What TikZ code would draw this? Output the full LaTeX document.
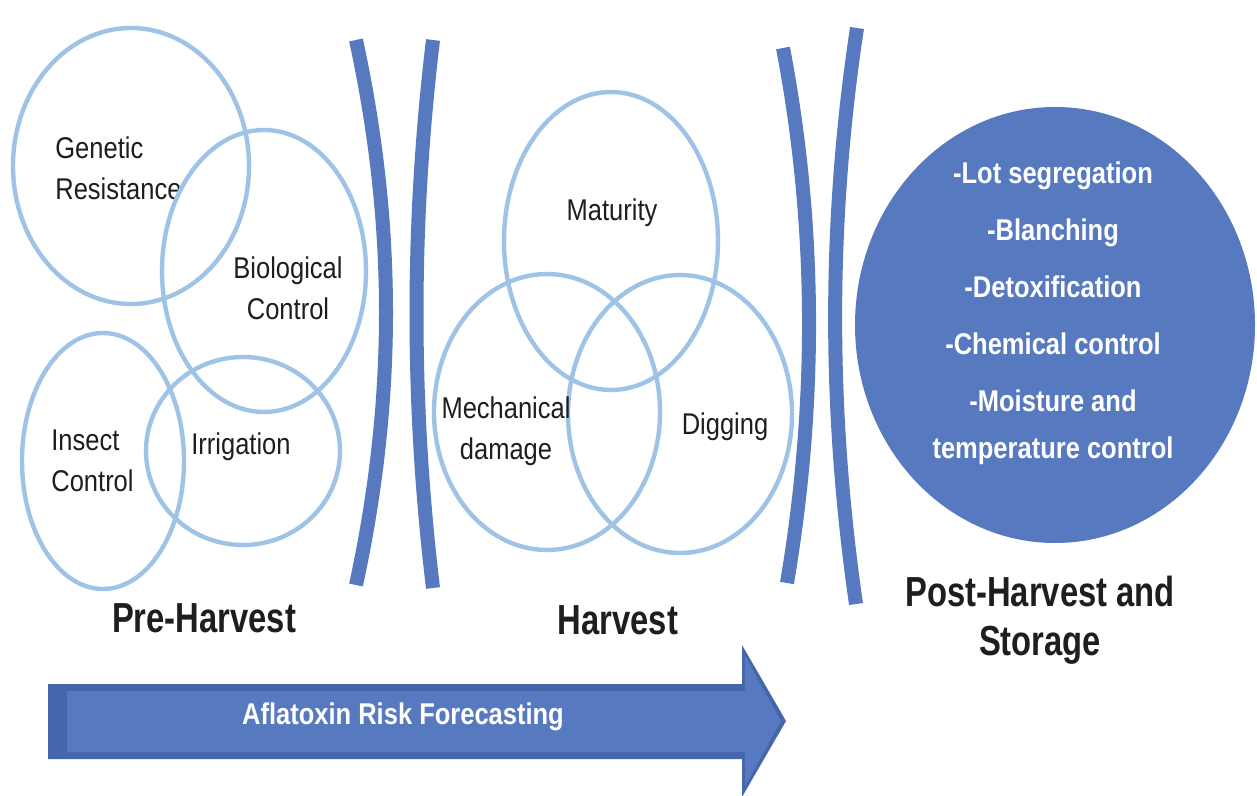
\documentclass[tikz,border=0pt]{standalone}
\usepackage{fontspec}
\setmainfont{Liberation Sans}
\newfontfamily\labelfont{Liberation Sans}[FakeStretch=0.85]
\newfontfamily\headfont{Liberation Sans}[FakeStretch=0.78]
\usetikzlibrary{shapes.geometric}
\definecolor{barblue}{HTML}{5779C0}
\definecolor{ringblue}{HTML}{9FC3E7}
\definecolor{arrowdark}{HTML}{4666AB}
\definecolor{inkgray}{HTML}{1E1E1E}
\begin{document}
\begin{tikzpicture}[x=0.5pt,y=-0.5pt,
  ring/.style={ellipse, draw=ringblue, line width=2.2pt, inner sep=0pt},
  bar/.style={draw=barblue, line width=7pt, line cap=butt},
  lbl/.style={text=inkgray, inner sep=0pt, align=center,
    font=\labelfont\fontsize{15pt}{20.5pt}\selectfont},
  stage/.style={text=inkgray, inner sep=0pt, align=center,
    font=\headfont\bfseries\fontsize{21pt}{24.5pt}\selectfont},
  whitetext/.style={text=white, inner sep=0pt, align=center,
    font=\labelfont\bfseries\fontsize{15pt}{23.5pt}\selectfont}]
\useasboundingbox (0,0) rectangle (1257,796);
\fill[white] (0,0) rectangle (1257,796);

% ---- Pre-harvest labels
\node[lbl, anchor=west, align=left] (genlbl) at (55,168) {Genetic\\Resistance};
\node[lbl] (biolbl) at (288,288) {Biological\\Control};
\node[lbl, anchor=west, align=left] (inslbl) at (51,461) {Insect\\Control};
\node[lbl] (irrlbl) at (241,447) {Irrigation};

% ---- Pre-harvest rings
\node[ring, minimum width=118pt, minimum height=138pt] (genetic) at (131,166) {};
\node[ring, minimum width=102pt, minimum height=141pt] (biological) at (264,271) {};
\node[ring, minimum width=81pt, minimum height=128pt] (insect) at (103,461) {};
\node[ring, minimum width=97pt, minimum height=94pt] (irrigation) at (243,451) {};

% ---- Harvest rings
\node[ring, minimum width=107pt, minimum height=149pt] (maturity) at (611,241) {};
\node[ring, minimum width=113pt, minimum height=138pt] (mechanical) at (547,412) {};
\node[ring, minimum width=112pt, minimum height=139pt] (digging) at (680,414) {};

% ---- Harvest labels
\node[lbl] (matlbl) at (612,213) {Maturity};
\node[lbl] (mechlbl) at (506,431) {Mechanical\\damage};
\node[lbl] (diglbl) at (725,427) {Digging};

% ---- Curved separators
\draw[bar] (356,40) .. controls (396,225) and (396,400) .. (356,585);
\draw[bar] (433,40) .. controls (411,223) and (411,405) .. (433,588);
\draw[bar] (783,48) .. controls (817,226) and (817,405) .. (787,583);
\draw[bar] (857,28) .. controls (828,220) and (828,410) .. (856,604);

% ---- Post-harvest disc
\node[ellipse, fill=barblue, inner sep=0pt, minimum width=200pt, minimum height=218pt] (post) at (1055,325) {};
\node[whitetext] (postlist) at (1053,313)
  {-Lot segregation\\[5pt]-Blanching\\[5pt]-Detoxification\\[5pt]-Chemical control\\[5pt]-Moisture and\\temperature control};

% ---- Stage titles
\node[stage] (pre) at (204,618) {Pre-Harvest};
\node[stage] (harv) at (618,620) {Harvest};
\node[stage] (posth) at (1040,620) {Post-Harvest and\\Storage};

% ---- Forecasting arrow
\fill[arrowdark] (48,684) -- (742,684) -- (742,645) -- (786,721) -- (742,797)
  -- (742,759) -- (48,759) -- cycle;
\fill[barblue] (67,691) -- (745,691) -- (745,656) -- (781,721) -- (745,786)
  -- (745,752) -- (67,752) -- cycle;
\node[text=white, inner sep=0pt, font=\labelfont\bfseries\fontsize{15pt}{18pt}\selectfont]
  (forecast) at (403,717) {Aflatoxin Risk Forecasting};
\end{tikzpicture}
\end{document}
